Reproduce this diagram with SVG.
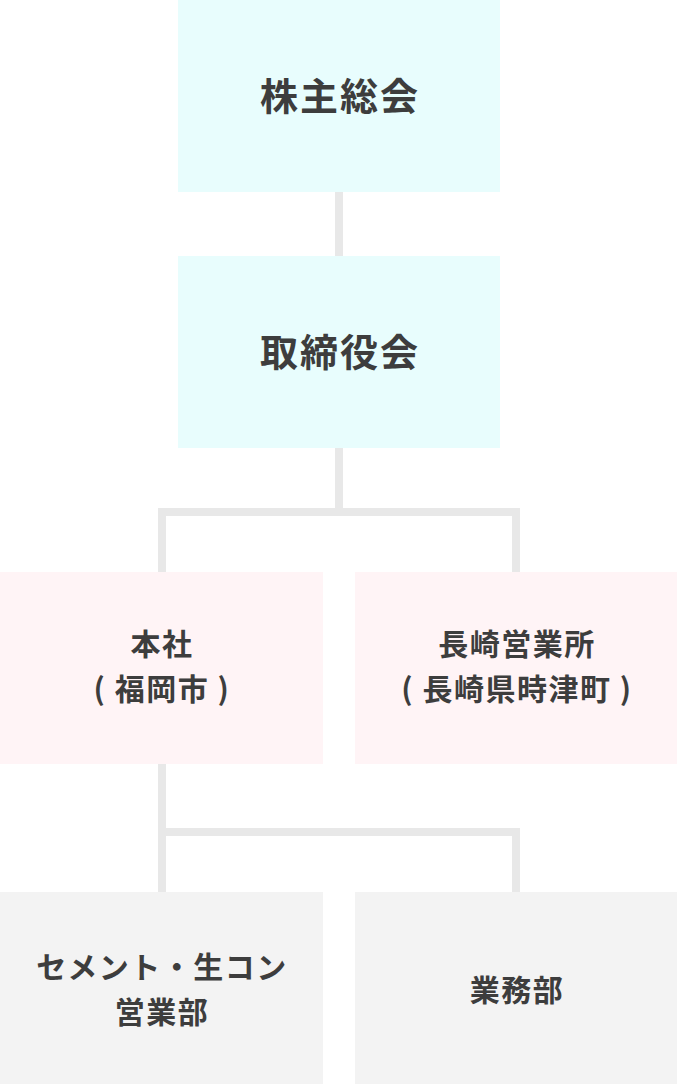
<svg xmlns="http://www.w3.org/2000/svg" width="677" height="1084" viewBox="0 0 677 1084">
<style>
.t{font-family:"Noto Sans CJK JP","Noto Sans",sans-serif;font-weight:bold;fill:#3d3d3d;text-anchor:middle;dominant-baseline:central}
.big{font-size:38px;letter-spacing:2px}
.mid{font-size:30px;letter-spacing:1.5px}
.c{fill:#e8fdfd}.p{fill:#fff4f6}.g{fill:#f3f3f3}
.ln{fill:none;stroke:#e8e8e8;stroke-width:8}
</style>
<rect width="677" height="1084" fill="#ffffff"/>
<g id="connectors">
<path class="ln" d="M339 192V256"/>
<path class="ln" d="M339 448V512M162 572V512H516V572"/>
<path class="ln" d="M162 764V892M162 832H516V892"/>
</g>
<g id="n1"><rect class="c" x="178" y="0" width="322" height="192"/><text class="t big" x="340" y="93">株主総会</text></g>
<g id="n2"><rect class="c" x="178" y="256" width="322" height="192"/><text class="t big" x="340" y="349">取締役会</text></g>
<g id="n3"><rect class="p" x="0" y="572" width="323" height="192"/><text class="t mid" x="162" y="642">本社</text><text class="t mid" x="162" y="687">( 福岡市 )</text></g>
<g id="n4"><rect class="p" x="355" y="572" width="322" height="192"/><text class="t mid" x="517" y="642">長崎営業所</text><text class="t mid" x="517" y="687">( 長崎県時津町 )</text></g>
<g id="n5"><rect class="g" x="0" y="892" width="323" height="192"/><text class="t mid" x="162" y="965">セメント・生コン</text><text class="t mid" x="162" y="1010">営業部</text></g>
<g id="n6"><rect class="g" x="355" y="892" width="322" height="192"/><text class="t mid" x="517" y="988">業務部</text></g>
</svg>
